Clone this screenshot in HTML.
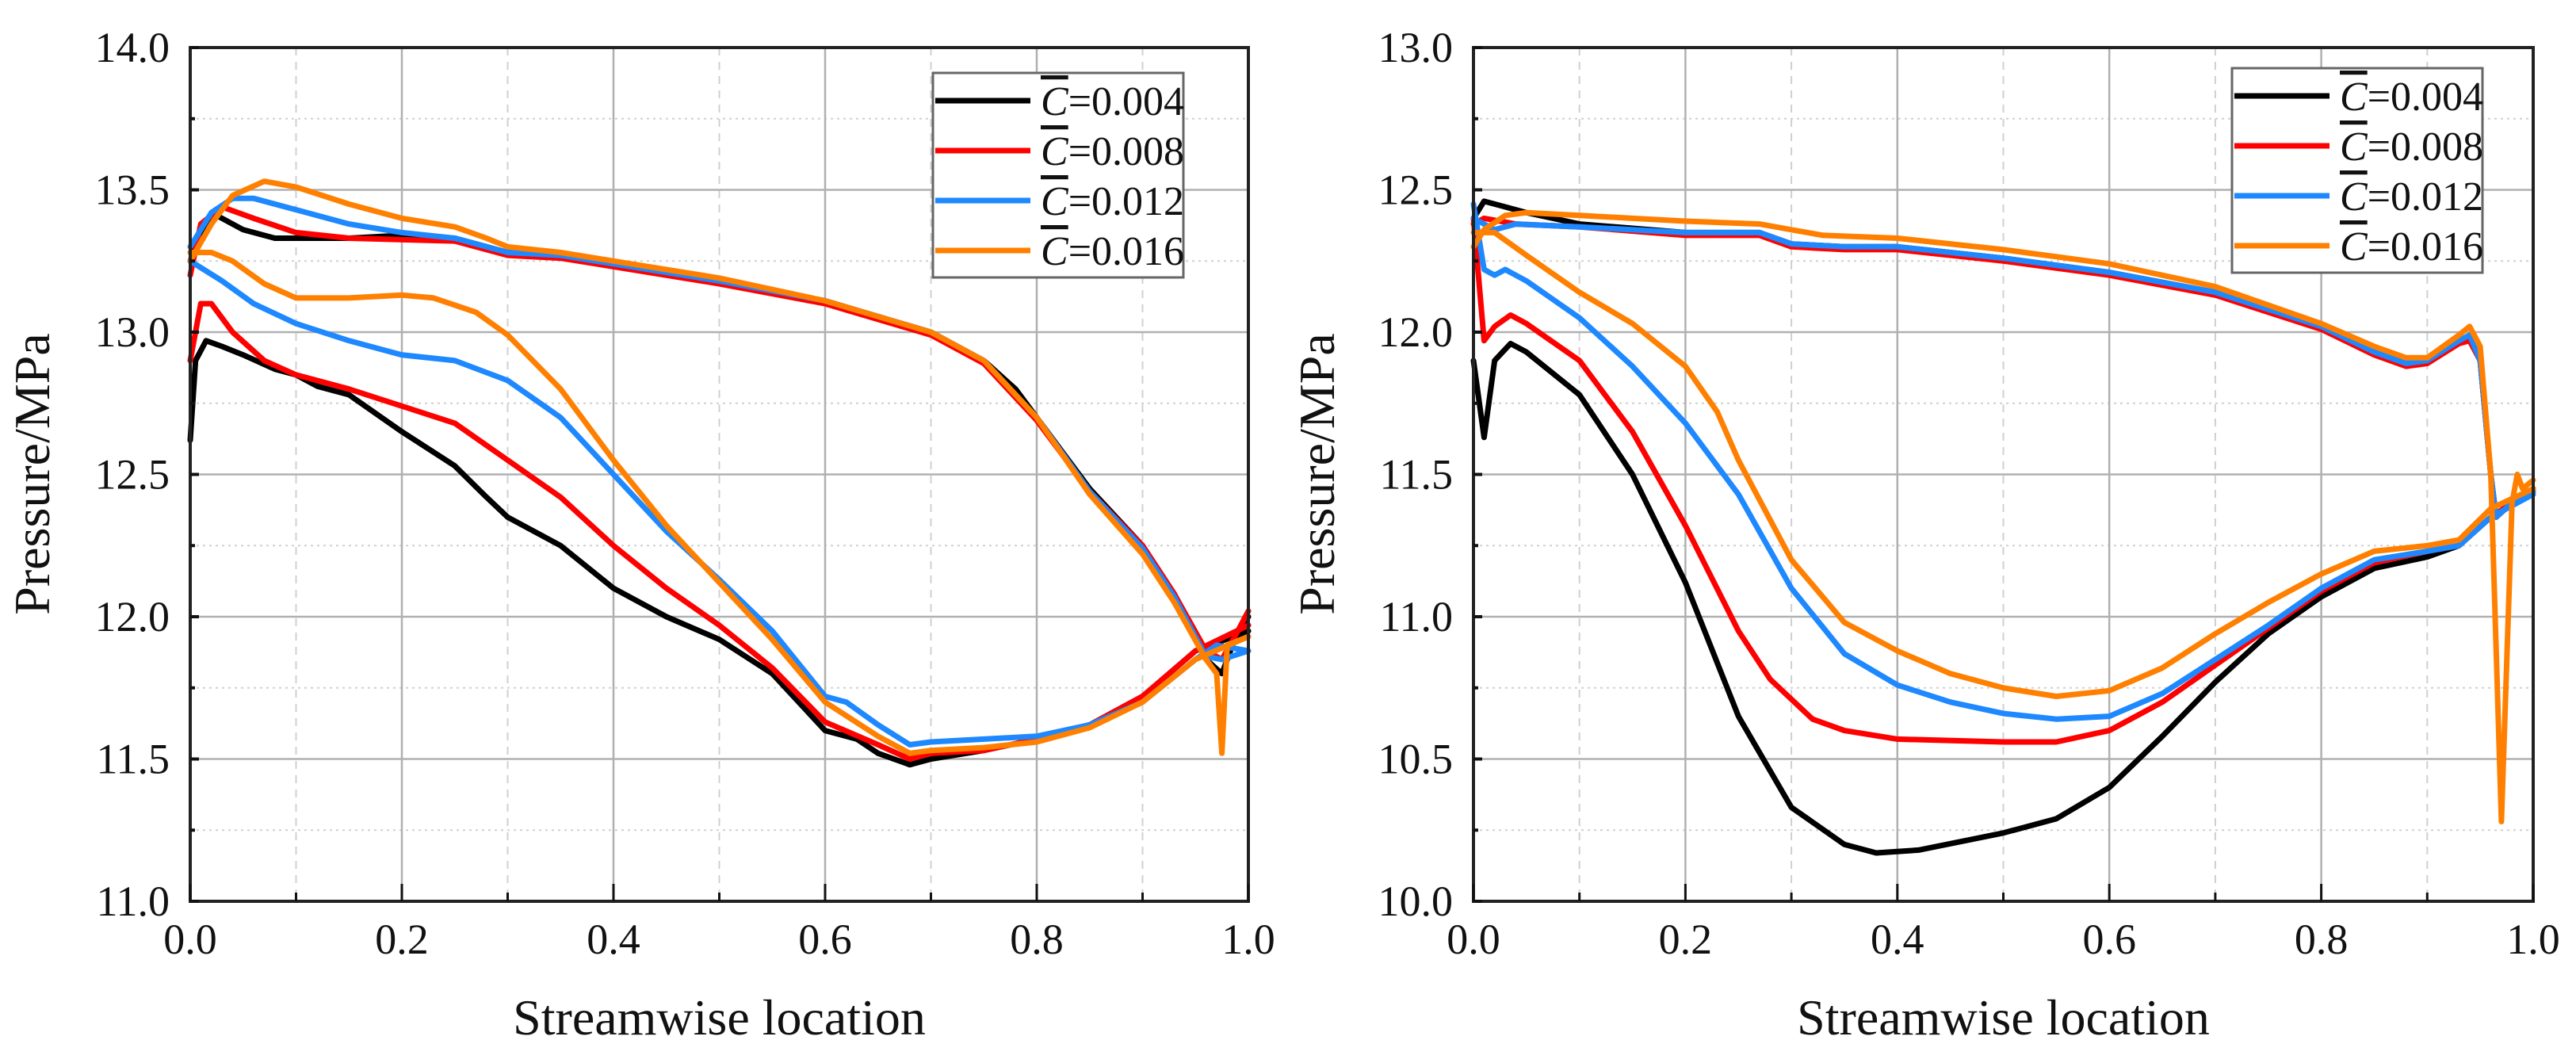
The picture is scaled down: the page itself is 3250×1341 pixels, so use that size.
<!DOCTYPE html>
<html><head><meta charset="utf-8">
<style>
html,body{margin:0;padding:0;background:#fff;}
svg{display:block;font-family:"Liberation Serif",serif;}
</style></head>
<body>
<svg id="fig" width="3250" height="1341" viewBox="0 0 3250 1341" xmlns="http://www.w3.org/2000/svg"></svg>
<script>
// ---- data ----
const seriesLabels = ["0.004","0.008","0.012","0.016"];
const seriesColors = ["#000000","#ff0000","#1e88ff","#ff8000"];
const xTicks = [0,0.2,0.4,0.6,0.8,1.0];
const xTickLabels = ["0.0","0.2","0.4","0.6","0.8","1.0"];
const leftYTicks = [11.0,11.5,12.0,12.5,13.0,13.5,14.0];
const leftYTickLabels = ["11.0","11.5","12.0","12.5","13.0","13.5","14.0"];
const rightYTicks = [10.0,10.5,11.0,11.5,12.0,12.5,13.0];
const rightYTickLabels = ["10.0","10.5","11.0","11.5","12.0","12.5","13.0"];

const leftUpper004 = [[0,13.25],[0.01,13.35],[0.025,13.41],[0.05,13.36],[0.08,13.33],[0.15,13.33],[0.2,13.34],[0.25,13.33],[0.3,13.28],[0.35,13.27],[0.4,13.24],[0.5,13.18],[0.6,13.11],[0.7,13.0],[0.75,12.9],[0.78,12.8],[0.8,12.7],[0.85,12.45],[0.9,12.25],[0.93,12.08],[0.96,11.85],[0.975,11.8],[0.99,11.95],[1.0,12.0]];
const leftLower004 = [[0,12.62],[0.005,12.9],[0.015,12.97],[0.03,12.95],[0.05,12.92],[0.08,12.87],[0.1,12.85],[0.12,12.81],[0.15,12.78],[0.2,12.65],[0.25,12.53],[0.28,12.42],[0.3,12.35],[0.35,12.25],[0.4,12.1],[0.45,12.0],[0.5,11.92],[0.55,11.8],[0.6,11.6],[0.63,11.57],[0.65,11.52],[0.68,11.48],[0.7,11.5],[0.75,11.53],[0.8,11.57],[0.85,11.62],[0.9,11.72],[0.95,11.88],[1.0,11.95]];
const leftUpper008 = [[0,13.2],[0.01,13.38],[0.03,13.44],[0.06,13.4],[0.1,13.35],[0.15,13.33],[0.25,13.32],[0.3,13.27],[0.35,13.26],[0.4,13.23],[0.5,13.17],[0.6,13.1],[0.7,12.99],[0.75,12.89],[0.8,12.69],[0.85,12.44],[0.9,12.25],[0.93,12.08],[0.96,11.88],[0.975,11.85],[0.99,11.95],[1.0,12.02]];
const leftLower008 = [[0,12.9],[0.01,13.1],[0.02,13.1],[0.04,13.0],[0.07,12.9],[0.1,12.85],[0.15,12.8],[0.2,12.74],[0.25,12.68],[0.3,12.55],[0.35,12.42],[0.4,12.25],[0.45,12.1],[0.5,11.97],[0.55,11.82],[0.6,11.63],[0.65,11.55],[0.68,11.5],[0.7,11.52],[0.75,11.53],[0.8,11.57],[0.85,11.62],[0.9,11.72],[0.95,11.88],[1.0,11.97]];
const leftUpper012 = [[0,13.3],[0.02,13.42],[0.04,13.47],[0.06,13.47],[0.1,13.43],[0.15,13.38],[0.2,13.35],[0.25,13.33],[0.3,13.28],[0.35,13.27],[0.4,13.24],[0.5,13.18],[0.6,13.11],[0.7,13.0],[0.75,12.9],[0.8,12.7],[0.85,12.44],[0.9,12.24],[0.93,12.07],[0.96,11.86],[0.975,11.85],[1.0,11.88]];
const leftLower012 = [[0,13.25],[0.03,13.18],[0.06,13.1],[0.1,13.03],[0.15,12.97],[0.2,12.92],[0.25,12.9],[0.3,12.83],[0.35,12.7],[0.4,12.5],[0.45,12.3],[0.5,12.13],[0.55,11.95],[0.6,11.72],[0.62,11.7],[0.65,11.62],[0.68,11.55],[0.7,11.56],[0.75,11.57],[0.8,11.58],[0.85,11.62],[0.9,11.7],[0.95,11.85],[0.97,11.9],[1.0,11.88]];
const leftUpper016 = [[0,13.25],[0.02,13.38],[0.04,13.48],[0.07,13.53],[0.1,13.51],[0.15,13.45],[0.2,13.4],[0.25,13.37],[0.28,13.33],[0.3,13.3],[0.35,13.28],[0.4,13.25],[0.5,13.19],[0.6,13.11],[0.7,13.0],[0.75,12.9],[0.8,12.7],[0.85,12.43],[0.9,12.22],[0.93,12.05],[0.96,11.85],[0.97,11.8],[0.975,11.52],[0.98,11.9],[1.0,11.93]];
const leftLower016 = [[0,13.28],[0.02,13.28],[0.04,13.25],[0.07,13.17],[0.1,13.12],[0.15,13.12],[0.2,13.13],[0.23,13.12],[0.27,13.07],[0.3,12.99],[0.35,12.8],[0.4,12.55],[0.45,12.32],[0.5,12.12],[0.55,11.92],[0.6,11.7],[0.65,11.58],[0.68,11.52],[0.7,11.53],[0.75,11.54],[0.8,11.56],[0.85,11.61],[0.9,11.7],[0.95,11.85],[1.0,11.93]];

const rightUpper004 = [[0,12.4],[0.01,12.46],[0.03,12.44],[0.05,12.42],[0.1,12.38],[0.2,12.35],[0.27,12.35],[0.3,12.31],[0.35,12.3],[0.4,12.3],[0.5,12.26],[0.6,12.21],[0.7,12.14],[0.8,12.02],[0.85,11.93],[0.88,11.89],[0.9,11.9],[0.93,11.97],[0.94,11.98],[0.95,11.9],[0.96,11.5],[0.965,11.35],[0.98,11.4],[1.0,11.45]];
const rightLower004 = [[0,11.9],[0.01,11.63],[0.02,11.9],[0.035,11.96],[0.05,11.93],[0.1,11.78],[0.15,11.5],[0.2,11.12],[0.25,10.65],[0.3,10.33],[0.35,10.2],[0.38,10.17],[0.42,10.18],[0.5,10.24],[0.55,10.29],[0.6,10.4],[0.65,10.58],[0.7,10.77],[0.75,10.94],[0.8,11.07],[0.85,11.17],[0.9,11.21],[0.93,11.25],[0.96,11.35],[1.0,11.44]];
const rightUpper008 = [[0,12.38],[0.01,12.4],[0.04,12.38],[0.1,12.37],[0.2,12.34],[0.27,12.34],[0.3,12.3],[0.35,12.29],[0.4,12.29],[0.5,12.25],[0.6,12.2],[0.7,12.13],[0.8,12.01],[0.85,11.92],[0.88,11.88],[0.9,11.89],[0.93,11.96],[0.94,11.97],[0.95,11.9],[0.96,11.5],[0.965,11.35],[0.98,11.4],[1.0,11.45]];
const rightLower008 = [[0,12.4],[0.01,11.97],[0.02,12.02],[0.035,12.06],[0.05,12.03],[0.1,11.9],[0.15,11.65],[0.2,11.32],[0.25,10.95],[0.28,10.78],[0.32,10.64],[0.35,10.6],[0.4,10.57],[0.5,10.56],[0.55,10.56],[0.6,10.6],[0.65,10.7],[0.7,10.83],[0.75,10.96],[0.8,11.09],[0.85,11.19],[0.9,11.23],[0.93,11.25],[0.96,11.35],[1.0,11.45]];
const rightUpper012 = [[0,12.4],[0.02,12.36],[0.04,12.38],[0.1,12.37],[0.2,12.35],[0.27,12.35],[0.3,12.31],[0.35,12.3],[0.4,12.3],[0.5,12.26],[0.6,12.21],[0.7,12.14],[0.8,12.02],[0.85,11.93],[0.88,11.89],[0.9,11.9],[0.93,11.97],[0.94,11.99],[0.95,11.9],[0.96,11.5],[0.965,11.35],[0.98,11.4],[1.0,11.44]];
const rightLower012 = [[0,12.45],[0.01,12.22],[0.02,12.2],[0.03,12.22],[0.05,12.18],[0.1,12.05],[0.15,11.88],[0.2,11.68],[0.25,11.43],[0.3,11.1],[0.35,10.87],[0.4,10.76],[0.45,10.7],[0.5,10.66],[0.55,10.64],[0.6,10.65],[0.65,10.73],[0.7,10.85],[0.75,10.97],[0.8,11.1],[0.85,11.2],[0.9,11.23],[0.93,11.25],[0.96,11.35],[1.0,11.43]];
const rightUpper016 = [[0,12.3],[0.01,12.36],[0.03,12.41],[0.05,12.42],[0.1,12.41],[0.2,12.39],[0.27,12.38],[0.3,12.36],[0.33,12.34],[0.4,12.33],[0.5,12.29],[0.6,12.24],[0.7,12.16],[0.8,12.03],[0.85,11.95],[0.88,11.91],[0.9,11.91],[0.93,11.99],[0.94,12.02],[0.95,11.95],[0.96,11.5],[0.97,10.28],[0.98,11.4],[0.985,11.5],[0.99,11.45],[1.0,11.48]];
const rightLower016 = [[0,12.35],[0.02,12.35],[0.05,12.27],[0.1,12.14],[0.15,12.03],[0.2,11.88],[0.23,11.72],[0.25,11.55],[0.3,11.2],[0.35,10.98],[0.4,10.88],[0.45,10.8],[0.5,10.75],[0.55,10.72],[0.6,10.74],[0.65,10.82],[0.7,10.94],[0.75,11.05],[0.8,11.15],[0.85,11.23],[0.9,11.25],[0.93,11.27],[0.96,11.38],[1.0,11.45]];

const NS = "http://www.w3.org/2000/svg";
const svg = document.getElementById("fig");
function mk(tag, attrs, parent){
  const e = document.createElementNS(NS, tag);
  for (const k in attrs) e.setAttribute(k, attrs[k]);
  (parent||svg).appendChild(e);
  return e;
}

function panel(cfg){
  const g = mk("g", {});
  
  
  const x0 = cfg.x0, x1 = cfg.x1, yTop = 60, yBot = 1137;
  const yMin = cfg.yTicks[0], yMax = cfg.yTicks[cfg.yTicks.length-1];
  const sx = v => x0 + (x1 - x0) * v;
  const sy = p => yBot - (yBot - yTop) * (p - yMin) / (yMax - yMin);

  for (let i = 0; i < xTicks.length - 1; i++) {
    const xm = sx((xTicks[i] + xTicks[i+1]) / 2);
    const l = mk("line", {x1:xm, y1:yTop, x2:xm, y2:yBot, stroke:"#d0d0d0", "stroke-width":2, "stroke-dasharray":"10,8"}, g);
    
    
  }
  for (let i = 0; i < cfg.yTicks.length - 1; i++) {
    const ym = sy((cfg.yTicks[i] + cfg.yTicks[i+1]) / 2);
    const l = mk("line", {x1:x0, y1:ym, x2:x1, y2:ym, stroke:"#d0d0d0", "stroke-width":2, "stroke-dasharray":"3,5"}, g);
    
    
  }
  xTicks.forEach(v => {
    const l = mk("line", {x1:sx(v), y1:yTop, x2:sx(v), y2:yBot, stroke:"#b0b0b0", "stroke-width":2.5}, g);
    
    
  });
  cfg.yTicks.forEach(p => {
    const l = mk("line", {x1:x0, y1:sy(p), x2:x1, y2:sy(p), stroke:"#b0b0b0", "stroke-width":2.5}, g);
    
    
  });

  cfg.series.forEach((s, i) => {
    [s[0], s[1]].forEach((arr, j) => {
      const d = arr.map((pt, k) => (k ? "L" : "M") + sx(pt[0]).toFixed(1) + "," + sy(pt[1]).toFixed(1)).join(" ");
      const p = mk("path", {d:d, fill:"none", stroke:seriesColors[i], "stroke-width":7, "stroke-linejoin":"round", "stroke-linecap":"round"}, g);
      
      
    });
  });

  const fr = mk("rect", {x:x0, y:yTop, width:x1-x0, height:yBot-yTop, fill:"none", stroke:"#222", "stroke-width":4}, g);
  
  

  xTicks.forEach((v, i) => {
    const t = mk("line", {x1:sx(v), y1:yBot, x2:sx(v), y2:yBot-22, stroke:"#111", "stroke-width":3}, g);
    
    
    if (i < xTicks.length - 1) {
      const m = mk("line", {x1:sx((v+xTicks[i+1])/2), y1:yBot, x2:sx((v+xTicks[i+1])/2), y2:yBot-11, stroke:"#111", "stroke-width":3}, g);
      
      
    }
    const tx = mk("text", {x:sx(v), y:1203, "text-anchor":"middle", "font-size":54, fill:"#111"}, g);
    tx.textContent = xTickLabels[i];
    
    
  });
  cfg.yTicks.forEach((p, i) => {
    const t = mk("line", {x1:x0, y1:sy(p), x2:x0+11, y2:sy(p), stroke:"#111", "stroke-width":4}, g);
    
    
    if (i < cfg.yTicks.length - 1) {
      const ym = sy((p + cfg.yTicks[i+1]) / 2);
      const m = mk("line", {x1:x0, y1:ym, x2:x0+6, y2:ym, stroke:"#111", "stroke-width":4}, g);
      
      
    }
    const tx = mk("text", {x:x0-26, y:sy(p)+18, "text-anchor":"end", "font-size":54, fill:"#111"}, g);
    tx.textContent = cfg.yTickLabels[i];
    
    
  });

  const xt = mk("text", {x:(x0+x1)/2, y:1305, "text-anchor":"middle", "font-size":64, fill:"#111"}, g);
  xt.textContent = "Streamwise location";
  
  
  const ytx = cfg.yTitleX, yty = 598;
  const yt = mk("text", {x:ytx, y:yty, "text-anchor":"middle", "font-size":64, fill:"#111", transform:"rotate(-90 "+ytx+" "+yty+")"}, g);
  yt.textContent = "Pressure/MPa";
  
  

  const lg = mk("g", {}, g);
  
  
  const lx = cfg.legX, ly = cfg.legY;
  const box = mk("rect", {x:lx, y:ly, width:316, height:258, fill:"#fff", stroke:"#666", "stroke-width":3}, lg);
  
  
  seriesLabels.forEach((lab, i) => {
    const cy = ly + 35 + i * 63;
    const e = mk("g", {}, lg);
    
    
    mk("line", {x1:lx+3, y1:cy, x2:lx+123, y2:cy, stroke:seriesColors[i], "stroke-width":7}, e);
    const t = mk("text", {x:lx+136, y:cy+18, "font-size":52, fill:"#111"}, e);
    const c = mk("tspan", {"font-style":"italic", "text-decoration":"overline"}, t);
    c.textContent = "C";
    const r = mk("tspan", {}, t);
    r.textContent = "=" + lab;
  });
}

panel({name:"left-chart", x0:240, x1:1575, yTicks:leftYTicks, yTickLabels:leftYTickLabels, yTitleX:62, legX:1177, legY:92,
  series:[[leftUpper004,leftLower004],[leftUpper008,leftLower008],[leftUpper012,leftLower012],[leftUpper016,leftLower016]]});
panel({name:"right-chart", x0:1859, x1:3196, yTicks:rightYTicks, yTickLabels:rightYTickLabels, yTitleX:1683, legX:2816, legY:86,
  series:[[rightUpper004,rightLower004],[rightUpper008,rightLower008],[rightUpper012,rightLower012],[rightUpper016,rightLower016]]});
</script>
</body></html>
